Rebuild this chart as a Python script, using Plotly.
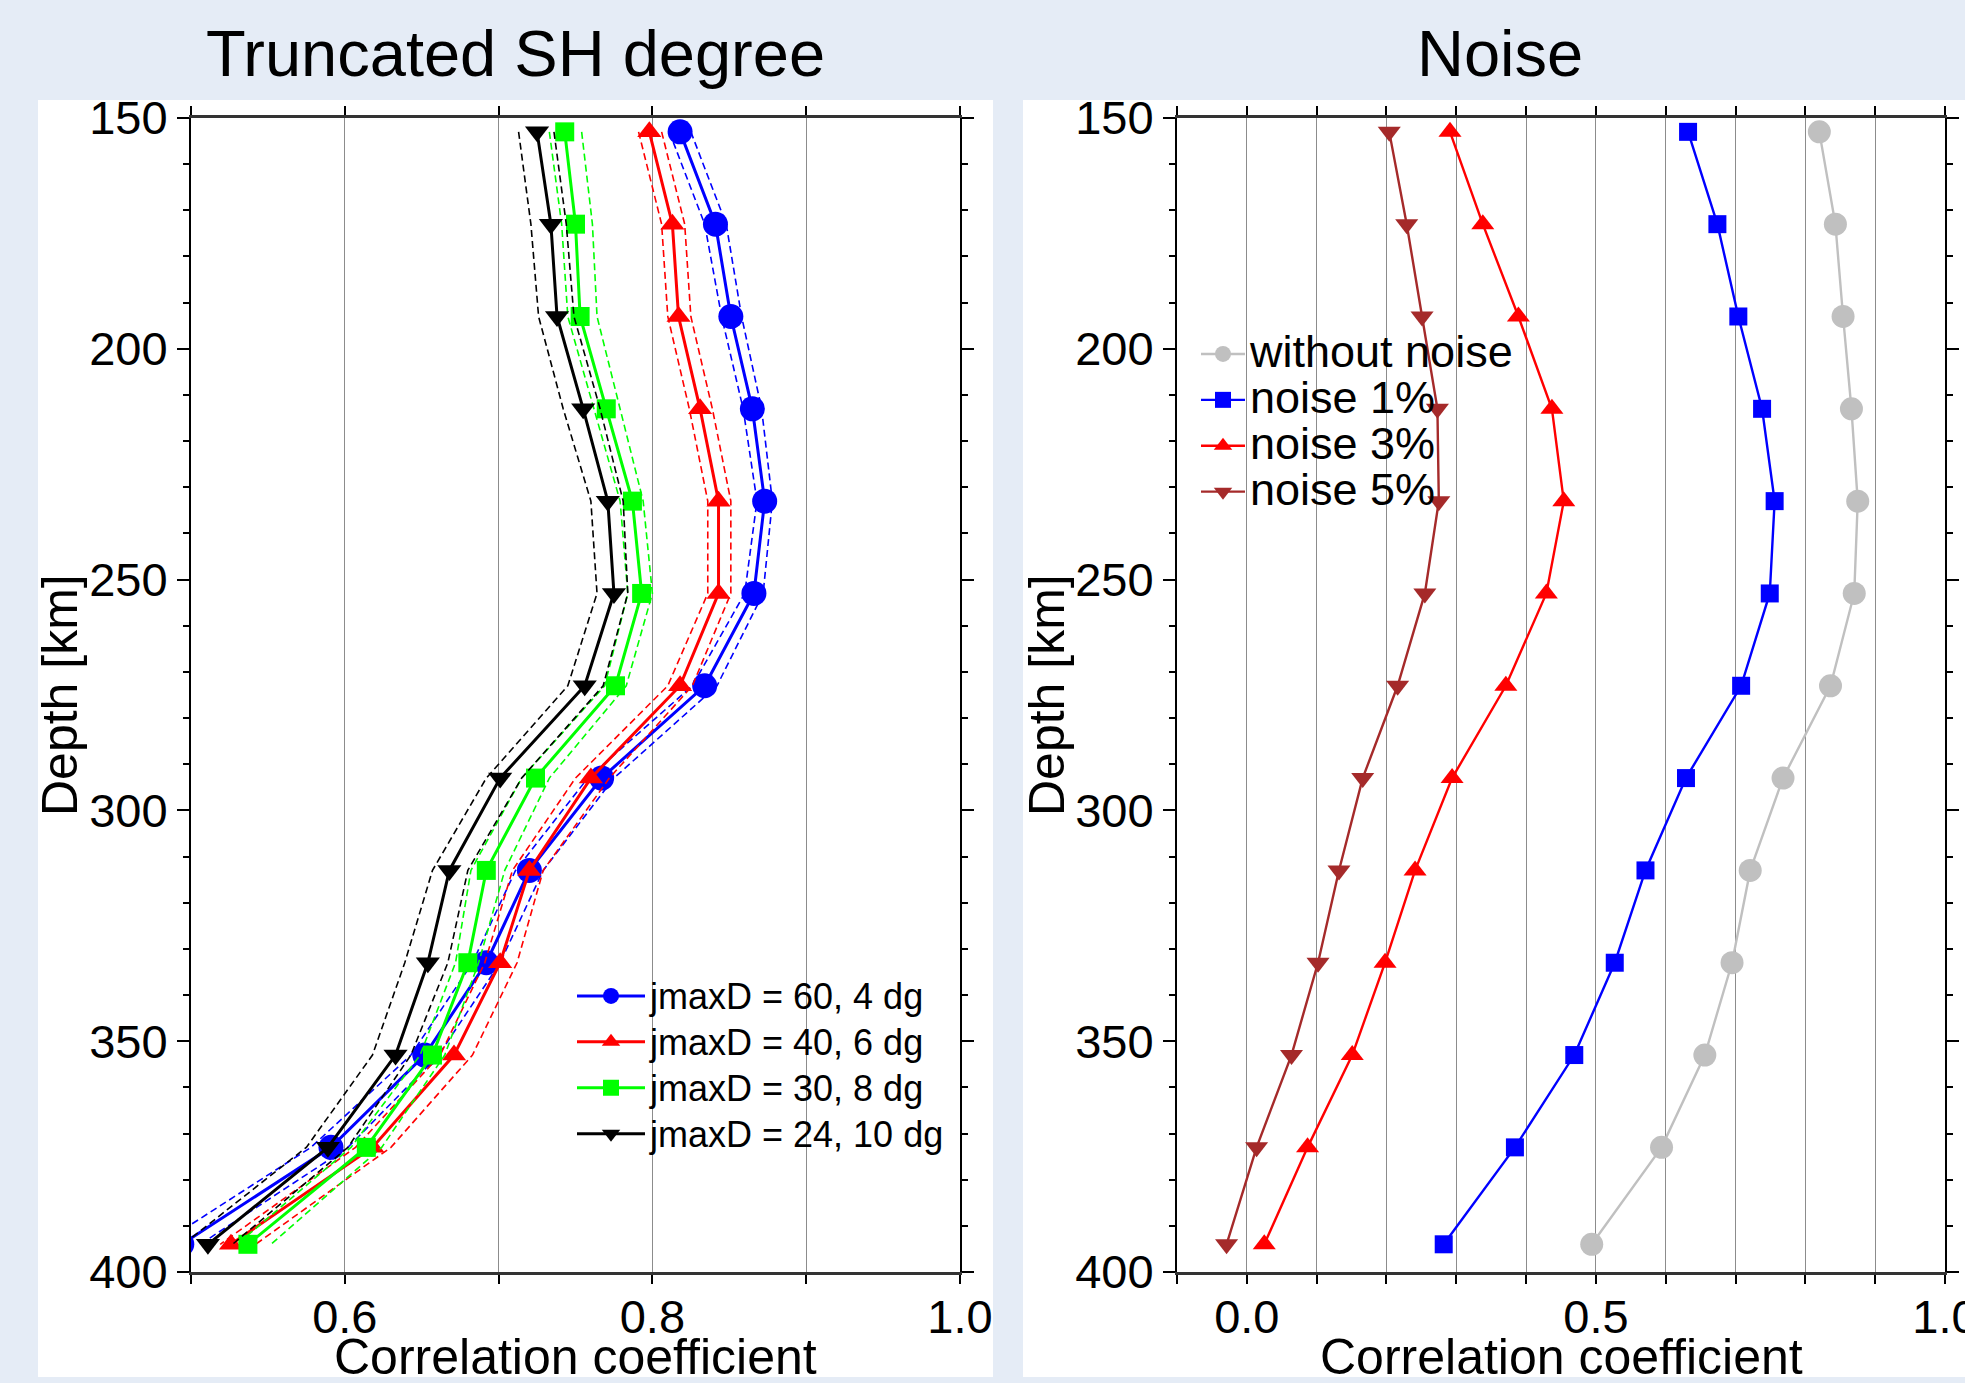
import plotly.graph_objects as go

# ---------------- data ----------------
depth = [153, 173, 193, 213, 233, 253, 273, 293, 313, 333, 353, 373, 394]

# Left panel: truncated SH degree (solid = mean, lo/hi = dashed bounds)
j60 = [0.818, 0.841, 0.851, 0.865, 0.873, 0.866, 0.834, 0.767, 0.720, 0.692, 0.652, 0.591, 0.494]
j60_lo = [0.811, 0.834, 0.845, 0.859, 0.868, 0.860, 0.826, 0.758, 0.711, 0.683, 0.643, 0.578, 0.480]
j60_hi = [0.825, 0.848, 0.858, 0.871, 0.878, 0.872, 0.842, 0.775, 0.729, 0.701, 0.661, 0.602, 0.506]

j40 = [0.798, 0.813, 0.817, 0.831, 0.843, 0.843, 0.818, 0.760, 0.720, 0.701, 0.671, 0.618, 0.526]
j40_lo = [0.791, 0.806, 0.810, 0.824, 0.836, 0.836, 0.810, 0.750, 0.709, 0.691, 0.662, 0.607, 0.519]
j40_hi = [0.806, 0.821, 0.825, 0.839, 0.851, 0.851, 0.826, 0.772, 0.729, 0.712, 0.683, 0.630, 0.542]

j30 = [0.743, 0.750, 0.753, 0.770, 0.787, 0.793, 0.776, 0.724, 0.692, 0.680, 0.657, 0.614, 0.537]
j30_lo = [0.733, 0.741, 0.745, 0.762, 0.779, 0.784, 0.769, 0.715, 0.682, 0.672, 0.649, 0.604, 0.530]
j30_hi = [0.754, 0.761, 0.764, 0.779, 0.794, 0.800, 0.783, 0.733, 0.704, 0.687, 0.665, 0.624, 0.552]

j24 = [0.725, 0.734, 0.738, 0.755, 0.771, 0.775, 0.756, 0.701, 0.668, 0.654, 0.633, 0.589, 0.511]
j24_lo = [0.713, 0.721, 0.726, 0.742, 0.760, 0.764, 0.745, 0.692, 0.657, 0.639, 0.618, 0.575, 0.495]
j24_hi = [0.736, 0.744, 0.749, 0.766, 0.781, 0.784, 0.768, 0.715, 0.680, 0.667, 0.643, 0.602, 0.527]

# Right panel: noise
noise0 = [0.820, 0.843, 0.854, 0.866, 0.875, 0.870, 0.836, 0.768, 0.721, 0.695, 0.656, 0.594, 0.494]
noise1 = [0.632, 0.674, 0.704, 0.738, 0.756, 0.749, 0.708, 0.629, 0.571, 0.527, 0.469, 0.384, 0.282]
noise3 = [0.291, 0.338, 0.389, 0.437, 0.454, 0.429, 0.371, 0.294, 0.241, 0.198, 0.151, 0.087, 0.025]
noise5 = [0.204, 0.229, 0.251, 0.273, 0.275, 0.255, 0.216, 0.166, 0.132, 0.102, 0.064, 0.014, -0.029]

left_names = ["jmaxD = 60, 4 dg", "jmaxD = 40, 6 dg", "jmaxD = 30, 8 dg", "jmaxD = 24, 10 dg"]
right_names = ["without noise", "noise 1%", "noise 3%", "noise 5%"]

left_tickvals = [0.5, 0.6, 0.7, 0.8, 0.9, 1.0]
left_ticktext = ["", "0.6", "", "0.8", "", "1.0"]
right_tickvals = [-0.1, 0.0, 0.1, 0.2, 0.3, 0.4, 0.5, 0.6, 0.7, 0.8, 0.9, 1.0]
right_ticktext = ["", "0.0", "", "", "", "", "0.5", "", "", "", "", "1.0"]
depth_tickvals = [150, 200, 250, 300, 350, 400]

FONT = "Liberation Sans, Arial, Helvetica, sans-serif"


def big(text, px):
    return '<span style="font-size:%dpx">%s</span>' % (px, text)


fig = go.Figure()

left_series = [
    (j60, j60_lo, j60_hi, "#0000ff", "circle", 25, left_names[0]),
    (j40, j40_lo, j40_hi, "#ff0000", "triangle-up", 21, left_names[1]),
    (j30, j30_lo, j30_hi, "#00ff00", "square", 19, left_names[2]),
    (j24, j24_lo, j24_hi, "#000000", "triangle-down", 21, left_names[3]),
]
for vals, lo, hi, col, sym, sz, name in left_series:
    for b in (lo, hi):
        fig.add_trace(go.Scatter(x=b, y=depth, mode="lines", xaxis="x", yaxis="y",
                                 line=dict(color=col, width=1.6, dash="7px,4px"),
                                 showlegend=False, hoverinfo="skip"))
    fig.add_trace(go.Scatter(x=vals, y=depth, mode="lines+markers", name=big(name, 36),
                             xaxis="x", yaxis="y", legend="legend",
                             line=dict(color=col, width=3),
                             marker=dict(symbol=sym, size=sz, color=col, line=dict(width=0))))

right_series = [
    (noise0, "#c0c0c0", "circle", 23, right_names[0]),
    (noise1, "#0000ff", "square", 18, right_names[1]),
    (noise3, "#ff0000", "triangle-up", 20, right_names[2]),
    (noise5, "#a52a2a", "triangle-down", 20, right_names[3]),
]
for vals, col, sym, sz, name in right_series:
    fig.add_trace(go.Scatter(x=vals, y=depth, mode="lines+markers", name=big(name, 45),
                             xaxis="x2", yaxis="y2", legend="legend2",
                             line=dict(color=col, width=2.4),
                             marker=dict(symbol=sym, size=sz, color=col, line=dict(width=0))))

W, H = 1965, 1383
ml, mr, mt, mb = 191, 20, 118, 111
pw = W - ml - mr
ph = H - mt - mb
left_dom = [0, (960 - ml) / pw]
right_dom = [(1177 - ml) / pw, 1]


def px_x(px):
    return (px - ml) / pw


def px_y(py):
    return (H - mb - py) / ph


xcommon = dict(ticks="outside", ticklen=9, tickwidth=1.5, tickcolor="black",
               showline=True, linecolor="#333333", linewidth=2.5, mirror="allticks",
               showgrid=True, gridcolor="#8c8c8c", gridwidth=1, zeroline=False,
               automargin=False, ticklabelstandoff=-7, ticklabeloverflow="allow",
               tickfont=dict(size=47, color="black", family=FONT))
ycommon = dict(range=[400, 150], tickvals=depth_tickvals, ticks="outside", ticklen=12,
               tickwidth=1.5, tickcolor="black",
               minor=dict(dtick=10, tick0=150, ticks="outside", ticklen=6, tickwidth=1.5,
                          tickcolor="black", showgrid=False),
               showline=True, linecolor="black", linewidth=2, mirror="allticks",
               showgrid=False, zeroline=False, automargin=False,
               tickfont=dict(size=47, color="black", family=FONT))

title_font = dict(size=50, color="black", family=FONT)

fig.update_layout(
    width=W, height=H,
    margin=dict(l=ml, r=mr, t=mt, b=mb, pad=0, autoexpand=False),
    paper_bgcolor="#e5ecf6", plot_bgcolor="white",
    font=dict(family=FONT, color="black"),
    xaxis=dict(domain=left_dom, range=[0.5, 1.0], tickvals=left_tickvals,
               ticktext=left_ticktext, anchor="y", **xcommon),
    yaxis=dict(domain=[0, 1], anchor="x", **ycommon),
    xaxis2=dict(domain=right_dom, range=[-0.1, 1.0], tickvals=right_tickvals,
                ticktext=right_ticktext, anchor="y2", **xcommon),
    yaxis2=dict(domain=[0, 1], anchor="x2", **ycommon),
    legend=dict(x=px_x(572), y=px_y(968), xanchor="left", yanchor="top",
                bgcolor="rgba(0,0,0,0)", borderwidth=0,
                font=dict(size=33, color="black", family=FONT),
                itemwidth=68, tracegroupgap=0),
    legend2=dict(x=px_x(1196), y=px_y(326), xanchor="left", yanchor="top",
                 bgcolor="rgba(0,0,0,0)", borderwidth=0,
                 font=dict(size=33, color="black", family=FONT),
                 itemwidth=44, tracegroupgap=0),
    shapes=[
        dict(type="rect", xref="paper", yref="paper", layer="below",
             x0=px_x(38), x1=px_x(993), y0=px_y(1377), y1=px_y(100),
             fillcolor="white", line=dict(width=0)),
        dict(type="rect", xref="paper", yref="paper", layer="below",
             x0=px_x(1023), x1=px_x(1990), y0=px_y(1377), y1=px_y(100),
             fillcolor="white", line=dict(width=0)),
    ],
    annotations=[
        dict(text="Truncated SH degree", xref="paper", yref="paper",
             x=px_x(515), y=px_y(53), xanchor="center", yanchor="middle",
             showarrow=False, font=dict(size=65, color="black", family=FONT)),
        dict(text="Noise", xref="paper", yref="paper",
             x=px_x(1500), y=px_y(53), xanchor="center", yanchor="middle",
             showarrow=False, font=dict(size=65, color="black", family=FONT)),
        dict(text="Depth [km]", xref="paper", yref="paper", textangle=-90,
             x=px_x(60), y=px_y(695), xanchor="center", yanchor="middle",
             showarrow=False, font=title_font),
        dict(text="Depth [km]", xref="paper", yref="paper", textangle=-90,
             x=px_x(1047), y=px_y(695), xanchor="center", yanchor="middle",
             showarrow=False, font=title_font),
        dict(text="Correlation coefficient", xref="paper", yref="paper",
             x=px_x(575), y=px_y(1357), xanchor="center", yanchor="middle",
             showarrow=False, font=title_font),
        dict(text="Correlation coefficient", xref="paper", yref="paper",
             x=px_x(1561), y=px_y(1357), xanchor="center", yanchor="middle",
             showarrow=False, font=title_font),
    ],
)

fig.write_html("out.html", config={"displayModeBar": False},
               post_script="document.body.style.margin='0';document.body.style.overflow='hidden';")
